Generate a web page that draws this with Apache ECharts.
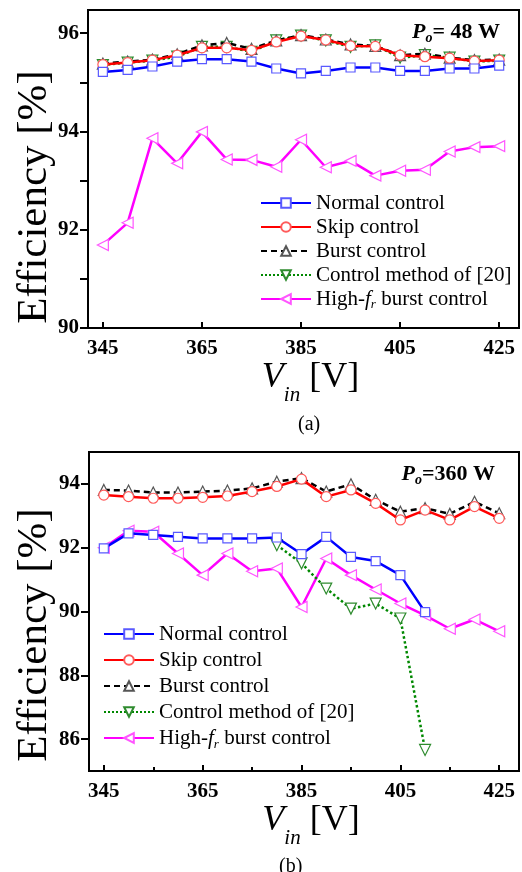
<!DOCTYPE html>
<html><head><meta charset="utf-8">
<script src="https://cdn.jsdelivr.net/npm/echarts@6/dist/echarts.min.js"></script>
<style>html,body{margin:0;padding:0;background:#fff}#c{width:522px;height:872px}</style>
</head><body><div id="c"></div>
<script>
// ---------- data ----------
const vin = [345,350,355,360,365,370,375,380,385,390,395,400,405,410,415,420,425];
const seriesNames = ['Normal control','Skip control','Burst control','Control method of [20]','High-fr burst control'];
// (a) Po = 48 W
const a_normal = [95.21,95.25,95.32,95.42,95.47,95.47,95.42,95.28,95.18,95.23,95.30,95.30,95.23,95.23,95.28,95.28,95.34];
const a_skip   = [95.36,95.40,95.45,95.55,95.70,95.70,95.65,95.82,95.94,95.86,95.74,95.73,95.55,95.52,95.49,95.43,95.45];
const a_burst  = [95.38,95.42,95.46,95.57,95.75,95.80,95.68,95.85,95.96,95.87,95.77,95.74,95.55,95.58,95.50,95.45,95.46];
const a_ref20  = [95.35,95.40,95.44,95.52,95.72,95.72,95.62,95.85,95.95,95.85,95.72,95.75,95.50,95.55,95.50,95.42,95.44];
const a_highfr = [91.69,92.14,93.86,93.35,93.99,93.43,93.42,93.28,93.83,93.27,93.40,93.10,93.20,93.22,93.59,93.68,93.70];
// (b) Po = 360 W
const b_normal_vin = [345,350,355,360,365,370,375,380,385,390,395,400,405,410];
const b_normal = [91.98,92.45,92.40,92.34,92.29,92.29,92.29,92.32,91.80,92.34,91.71,91.58,91.14,89.98];
const b_skip   = [93.65,93.60,93.55,93.55,93.58,93.62,93.76,93.92,94.15,93.60,93.81,93.39,92.87,93.18,92.87,93.29,92.92];
const b_burst  = [93.81,93.79,93.73,93.73,93.76,93.79,93.86,94.07,94.18,93.76,93.99,93.50,93.13,93.24,93.06,93.44,93.08];
const b_ref20_vin = [380,385,390,395,400,405,410];
const b_ref20  = [92.08,91.51,90.72,90.09,90.25,89.78,85.66];
const b_highfr = [92.00,92.53,92.50,91.82,91.14,91.82,91.26,91.35,90.14,91.66,91.14,90.69,90.25,89.88,89.46,89.75,89.38];
// ticks
const xMajorTicks = [345,365,385,405,425];
const xMinorTicksB = [355,375,395,415];
const aYTicks = [90,91,92,93,94,95,96];
const aYLabels = [90,92,94,96];
const bYTicks = [86,88,90,92,94];

// ---------- styles ----------
const SERIF = 'Liberation Serif, Times New Roman, serif';
const styles = [
  {color:'#0000ff', mark:'#5a5aff', symbol:'rect', size:9, rot:0, type:'solid'},
  {color:'#ff0000', mark:'#ff5a5a', symbol:'circle', size:10, rot:0, type:'solid'},
  {color:'#000000', mark:'#555555', symbol:'triangle', size:11, rot:0, type:[6,4]},
  {color:'#008800', mark:'#2e8b2e', symbol:'triangle', size:11, rot:180, type:'dotted'},
  {color:'#ff00ff', mark:'#ff55ff', symbol:'triangle', size:11, rot:90, type:'solid'}
];
function pairs(xs, ys){ return ys.map((v,i)=>[xs[i], v]); }
function mk(i, data, xi, yi){
  const s = styles[i];
  return {
    name: seriesNames[i], type:'line', xAxisIndex:xi, yAxisIndex:yi, data:data,
    symbol: s.symbol, symbolSize: s.size, symbolRotate: s.rot, showAllSymbol:true,
    lineStyle:{color:s.color, width:2.5, type:s.type},
    itemStyle:{color:'#ffffff', borderColor:s.mark, borderWidth:1.2},
    z: 10 - i, animation:false
  };
}
const series = [
  mk(4, pairs(vin,a_highfr),0,0),
  mk(0, pairs(vin,a_normal),0,0),
  mk(1, pairs(vin,a_skip),0,0),
  mk(3, pairs(vin,a_ref20),0,0),
  mk(2, pairs(vin,a_burst),0,0),
  mk(4, pairs(vin,b_highfr),1,1),
  mk(0, pairs(b_normal_vin,b_normal),1,1),
  mk(1, pairs(vin,b_skip),1,1),
  mk(3, pairs(b_ref20_vin,b_ref20),1,1),
  mk(2, pairs(vin,b_burst),1,1)
];

const tickLab = {fontFamily:SERIF, fontWeight:'bold', fontSize:21, color:'#000'};
const xName = '{v|V}{s|in}{n| [V]}';
const xRich = {
  v:{fontFamily:SERIF, fontStyle:'italic', fontSize:36, lineHeight:36, verticalAlign:'top', color:'#000'},
  s:{fontFamily:SERIF, fontStyle:'italic', fontSize:21, lineHeight:21, padding:[25,0,0,0], verticalAlign:'top', color:'#000'},
  n:{fontFamily:SERIF, fontSize:36, lineHeight:36, verticalAlign:'top', color:'#000'}
};
function xAxis(grid, ticks, labels, tickLen, showLine, showName){
  return {
    type:'value', gridIndex:grid, min:342, max:429, position:'bottom',
    axisLine:{show:showLine, lineStyle:{color:'#000', width:2}},
    axisTick:{show:true, inside:true, length:tickLen, customValues:ticks, lineStyle:{color:'#000', width:2}},
    axisLabel:{show:!!labels, customValues:labels||[], margin:10, ...tickLab},
    splitLine:{show:false},
    name: showName ? xName : '', nameLocation:'middle', nameGap:26,
    nameTextStyle:{rich:xRich, padding:[0,0,0,14]}
  };
}
function yAxis(grid, min, max, ticks, labels){
  return {
    type:'value', gridIndex:grid, min:min, max:max,
    axisLine:{show:true, lineStyle:{color:'#000', width:2}},
    axisTick:{show:true, inside:false, length:8, customValues:ticks, lineStyle:{color:'#000', width:2}},
    axisLabel:{customValues:labels, margin:9, ...tickLab},
    splitLine:{show:false}
  };
}
const legRich = {
  i:{fontFamily:SERIF, fontStyle:'italic', fontSize:21, color:'#000'},
  s:{fontFamily:SERIF, fontStyle:'italic', fontSize:13, lineHeight:13, verticalAlign:'bottom', color:'#000'}
};
function legend(left, top, lh){
  return {
    orient:'vertical', left:left, top:top, itemWidth:50, itemHeight:12, itemGap:0, padding:0,
    data: seriesNames.slice(),
    textStyle:{fontFamily:SERIF, fontSize:21, lineHeight:lh, color:'#000', rich:legRich},
    formatter: n => n === 'High-fr burst control' ? 'High-{i|f}{s|r} burst control' : n,
    selectedMode:false
  };
}
const pRich = (size) => ({
  p:{fontFamily:SERIF, fontWeight:'bold', fontStyle:'italic', fontSize:size, color:'#000'},
  o:{fontFamily:SERIF, fontWeight:'bold', fontStyle:'italic', fontSize:14, lineHeight:14, verticalAlign:'bottom', color:'#000'},
  t:{fontFamily:SERIF, fontWeight:'bold', fontSize:size, color:'#000'}
});
const yTitle = (y) => ({
  type:'text', x:35, y:y, rotation:Math.PI/2,
  style:{text:'Efficiency [%]', font:'43px ' + SERIF, fill:'#000', align:'center', verticalAlign:'middle'}
});

const option = {
  backgroundColor:'#fff',
  animation:false,
  title:[
    {text:'{p|P}{o|o}{t|= 48 W}', right:17, top:14, textStyle:{rich:pRich(22), lineHeight:26}},
    {text:'{p|P}{o|o}{t|=360 W}', right:22, top:456, textStyle:{rich:pRich(22), lineHeight:26}},
    {text:'(a)', left:293, top:410, textStyle:{fontFamily:SERIF, fontSize:20, fontWeight:'normal', color:'#000'}},
    {text:'(b)', left:274, top:852, textStyle:{fontFamily:SERIF, fontSize:20, fontWeight:'normal', color:'#000'}}
  ],
  graphic:[ yTitle(197), yTitle(635) ],
  grid:[
    {left:88, right:3, top:10, height:318, show:true, borderColor:'#000', borderWidth:2},
    {left:89, right:3, top:452, height:319, show:true, borderColor:'#000', borderWidth:2}
  ],
  xAxis:[
    xAxis(0, xMajorTicks, xMajorTicks, 6, true, true),
    xAxis(1, xMajorTicks, xMajorTicks, 6, true, true),
    xAxis(1, xMinorTicksB, null, 4, false, false)
  ],
  yAxis:[
    yAxis(0, 90, 96.47, aYTicks, aYLabels),
    yAxis(1, 85, 95, bYTicks, bYTicks)
  ],
  legend:[ legend(260, 191, 24), legend(103, 621, 26) ],
  series: series
};
const chart = echarts.init(document.getElementById('c'), null, {renderer:'canvas'});
chart.setOption(option);
</script></body></html>
